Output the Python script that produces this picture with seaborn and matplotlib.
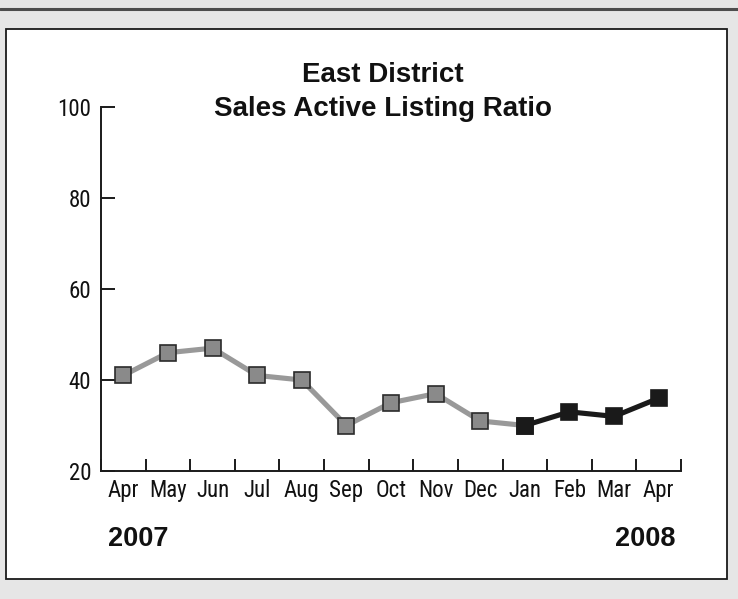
import matplotlib
matplotlib.use("Agg")
import matplotlib.pyplot as plt
import seaborn as sns
import pandas as pd
from matplotlib.patches import Rectangle
from matplotlib.lines import Line2D

months = ["Apr", "May", "Jun", "Jul", "Aug", "Sep", "Oct", "Nov", "Dec", "Jan", "Feb", "Mar", "Apr"]
ratio_2007 = [41, 46, 47, 41, 40, 30, 35, 37, 31, 30]
ratio_2008 = [30, 33, 32, 36]
title_lines = ["East District", "Sales Active Listing Ratio"]
year_labels = ["2007", "2008"]
yticks = [20, 40, 60, 80, 100]

sns.set_theme(style="white")
plt.rcParams['font.family'] = ['Liberation Sans', 'DejaVu Sans']
TICK_FONT = ['Roboto Condensed', 'Liberation Sans', 'DejaVu Sans']

df1 = pd.DataFrame({"x": list(range(len(ratio_2007))), "y": ratio_2007})
df2 = pd.DataFrame({"x": list(range(len(ratio_2007) - 1, len(months))), "y": ratio_2008})

W, H = 738, 599
fig = plt.figure(figsize=(W / 100, H / 100), dpi=100)
fig.patch.set_facecolor("#e6e6e6")

# top dark rule
fig.add_artist(Line2D([0, 1], [1 - 8.5 / H, 1 - 8.5 / H], transform=fig.transFigure,
                      color="#4d4d4d", lw=2.2))
# white panel
fig.add_artist(Rectangle((6.5 / W, 1 - 579 / H), (727 - 6.5) / W, (579 - 29) / H,
                         transform=fig.transFigure, facecolor="white",
                         edgecolor="#1a1a1a", lw=1.3, zorder=0))

ax = fig.add_axes([101 / W, 1 - 471 / H, (681 - 101) / W, (471 - 107) / H])
ax.set_facecolor("none")

sns.lineplot(data=df1, x="x", y="y", ax=ax, color="#999999", lw=3.7,
             marker="s", markersize=11.5, markerfacecolor="#8a8a8a",
             markeredgecolor="#2b2b2b", markeredgewidth=1.2)
sns.lineplot(data=df2, x="x", y="y", ax=ax, color="#1a1a1a", lw=3.7,
             marker="s", markersize=11.5, markerfacecolor="#1a1a1a",
             markeredgecolor="#1a1a1a", markeredgewidth=1.2)

ax.set_xlim(-0.5, len(months) - 0.5)
ax.set_ylim(20, 100)
ax.set_yticks(yticks)
ax.set_yticklabels([str(v) for v in yticks])
ax.set_xticks([i - 0.5 for i in range(len(months) + 1)])
ax.set_xticklabels([])
ax.set_xticks(range(len(months)), minor=True)
ax.set_xticklabels(months, minor=True)
ax.set_xlabel("")
ax.set_ylabel("")

for s in ["top", "right"]:
    ax.spines[s].set_visible(False)
for s in ["left", "bottom"]:
    ax.spines[s].set_color("#1a1a1a")
    ax.spines[s].set_linewidth(1.4)

ax.tick_params(axis="y", which="major", direction="in", length=10, width=1.4,
               color="#1a1a1a", pad=7, labelcolor="#111111", left=True)
ax.tick_params(axis="x", which="major", direction="in", length=9, width=1.4,
               color="#1a1a1a", bottom=True)
ax.tick_params(axis="x", which="minor", length=0, pad=5.5,
               labelcolor="#111111", bottom=True)
for lab in ax.get_xticklabels(minor=True) + ax.get_yticklabels():
    lab.set_family(TICK_FONT)
    lab.set_fontsize(16.5)

fig.text(383 / W, 1 - 82 / H, title_lines[0], ha="center", va="baseline",
         fontsize=20, fontweight="bold", color="#111111")
fig.text(383 / W, 1 - 116 / H, title_lines[1], ha="center", va="baseline",
         fontsize=20, fontweight="bold", color="#111111")
fig.text(108 / W, 1 - 546 / H, year_labels[0], ha="left", va="baseline",
         fontsize=19.5, fontweight="bold", color="#111111")
fig.text(676 / W, 1 - 546 / H, year_labels[1], ha="right", va="baseline",
         fontsize=19.5, fontweight="bold", color="#111111")

fig.savefig("out.png", dpi=100, facecolor=fig.get_facecolor())
